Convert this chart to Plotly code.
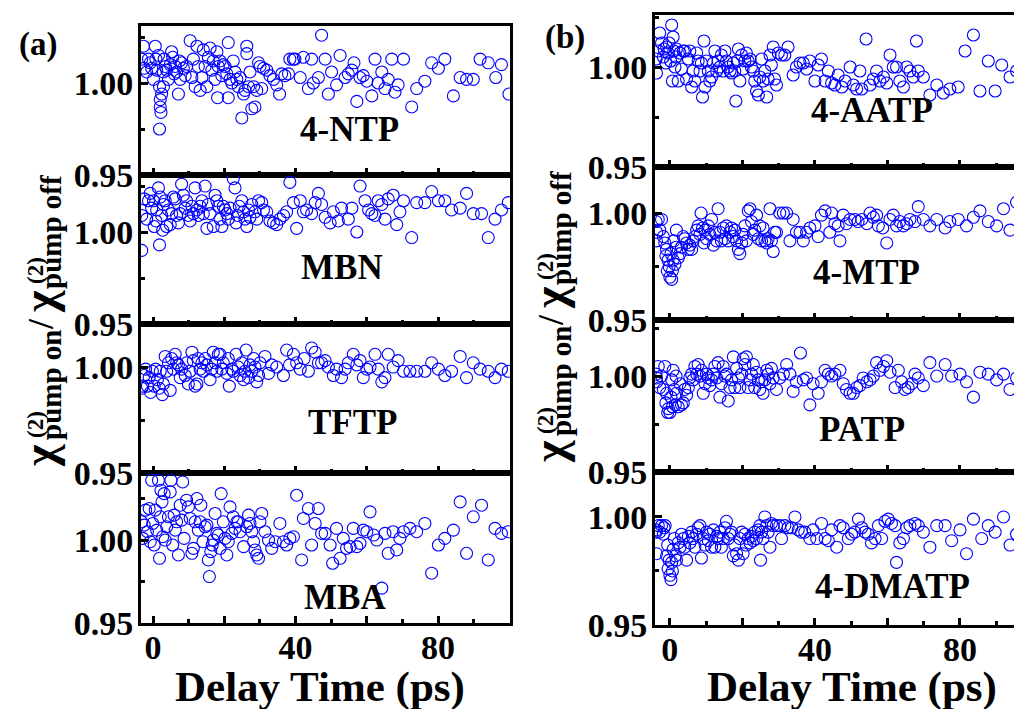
import plotly.graph_objects as go

# ---------------- data: (delay time ps, chi_on/chi_off) ----------------
ntp = [(-3.2,1.013),(-2.7,1.020),(-2.5,1.008),(-1.8,1.006),(-1.3,1.013),(-0.8,1.011),(-0.4,1.008),(0.1,1.002),
       (0.6,1.020),(0.8,1.013),(1.0,1.007),(1.5,1.015),(1.8,0.998),(2.0,0.991),(2.0,0.987),(2.2,0.984),(1.8,0.975),
       (2.4,0.994),(2.9,0.998),(2.9,1.006),(3.1,1.013),(3.4,1.009),(3.8,1.007),(4.3,1.002),(4.8,1.010),(5.2,1.017),
       (5.5,1.014),(5.9,1.005),(6.2,1.009),(6.6,1.006),(7.1,0.994),(7.4,1.012),(7.6,1.002),(8.0,1.011),(8.5,1.008),
       (9.0,1.004),(9.4,1.009),(10.4,1.023),(10.9,1.003),(11.3,1.013),(11.8,0.998),(12.3,1.020),(12.7,1.009),
       (13.2,0.996),(13.7,1.003),(14.1,1.018),(14.6,1.009),(15.1,0.998),(15.5,1.014),(16.0,1.019),(16.5,1.007),
       (16.9,1.012),(17.4,1.002),(17.9,1.017),(18.1,0.992),(18.3,1.009),(18.8,1.012),(19.3,1.004),(19.7,1.010),
       (20.2,1.009),(20.7,1.005),(21.1,1.022),(21.1,0.992),(21.6,1.002),(22.1,1.000),(22.5,1.012),(23.0,1.006),
       (23.5,1.002),(23.9,0.998),(24.4,1.003),(24.9,0.981),(25.4,0.994),(25.8,0.996),(26.3,1.020),(26.3,1.016),
       (26.8,0.998),(27.2,1.006),(27.7,0.986),(28.2,0.998),(28.6,0.987),(29.1,0.996),(29.6,1.011),(30.0,1.009),
       (30.5,0.997),(31.0,1.008),(31.9,1.007),(32.8,1.004),(33.8,1.002),(34.7,0.999),(35.5,0.994),(36.1,1.005),
       (37.0,1.004),(38.0,1.005),(38.4,1.013),(39.4,1.013),(39.8,1.013),(41.3,1.003),(42.2,1.014),(43.6,0.997),
       (44.5,1.013),(45.0,1.000),(46.4,1.003),(47.3,1.026),(48.3,1.013),(49.2,0.994),(50.1,1.006),(51.5,0.999),
       (52.5,1.015),(53.9,1.003),(54.8,1.005),(55.8,1.007),(56.4,1.011),(57.2,0.990),(58.1,1.003),(59.0,1.004),
       (60.0,1.001),(61.4,0.993),(62.3,1.013),(63.2,1.000),(64.2,1.006),(65.1,0.997),(66.0,1.002),(67.0,1.013),
       (67.9,0.995),(68.8,0.999),(70.3,1.013),(72.6,0.987),(74.0,0.997),(76.3,1.001),(78.2,1.011),(80.1,1.008),
       (81.9,1.013),(84.3,0.993),(86.2,1.003),(88.0,1.002),(89.9,1.002),(91.8,1.013),(94.1,1.011),(96.2,1.003),
       (97.8,1.010),(99.9,0.994)]

mbn = [(-3.2,0.990),(-3.2,1.009),(-2.5,1.018),(-1.8,1.007),(-1.3,1.017),(-0.8,1.021),(-0.4,1.013),(0.1,1.017),
       (0.3,1.003),(0.8,1.006),(1.0,1.012),(1.5,1.024),(1.8,0.993),(2.0,1.019),(2.4,1.009),(2.7,1.001),(2.9,1.015),
       (3.4,1.017),(3.8,1.003),(4.3,1.012),(4.8,1.004),(5.2,1.010),(5.7,1.019),(6.2,1.018),(6.6,1.009),(7.1,1.005),
       (7.6,1.010),(8.0,1.026),(8.5,1.020),(9.0,1.013),(9.4,1.017),(9.9,1.009),(10.4,1.006),(10.9,1.014),(11.3,1.010),
       (11.8,1.024),(12.3,1.012),(12.7,1.009),(13.2,1.014),(13.7,1.017),(14.1,1.010),(14.6,1.025),(15.1,1.002),
       (15.5,1.015),(16.0,1.010),(16.9,1.003),(17.4,1.020),(17.9,1.017),(18.3,1.014),(18.8,1.007),(19.3,1.003),
       (19.7,1.014),(20.2,1.012),(20.7,1.010),(21.1,1.007),(21.6,1.013),(22.5,1.029),(23.0,1.024),(23.3,1.005),
       (23.7,1.009),(24.2,1.014),(24.9,1.017),(25.4,1.011),(25.8,1.007),(26.3,1.003),(26.8,1.012),(27.2,1.008),
       (27.7,1.015),(28.6,1.011),(29.1,1.007),(29.6,1.017),(30.5,1.016),(31.0,1.012),(31.9,1.011),(32.8,1.006),
       (33.8,1.005),(34.7,1.004),(35.6,1.007),(36.6,1.009),(37.5,1.011),(38.4,1.027),(39.4,1.016),(40.3,1.002),
       (41.3,1.017),(42.2,1.011),(43.1,1.012),(44.5,1.010),(45.5,1.016),(46.4,1.021),(47.3,1.015),(48.3,1.008),
       (49.7,1.005),(50.6,1.011),(52.0,1.006),(52.9,1.013),(54.8,1.007),(55.8,1.013),(57.2,1.000),(58.1,1.025),
       (59.5,1.017),(60.5,1.012),(61.4,1.010),(62.3,1.009),(63.2,1.017),(64.2,1.015),(65.1,1.007),(66.0,1.018),
       (67.4,1.020),(68.4,1.004),(69.3,1.011),(70.3,1.017),(72.6,0.997),(74.0,1.016),(76.3,1.016),(78.2,1.022),
       (80.1,1.017),(81.9,1.017),(83.8,1.012),(86.2,1.013),(88.0,1.021),(89.9,1.010),(92.2,1.010),(94.1,0.997),
       (96.0,1.007),(97.8,1.012),(99.7,1.016)]

tftp = [(-3.2,0.990),(-2.9,0.991),(-2.5,0.996),(-2.1,0.999),(-1.6,0.991),(-1.1,0.995),(-0.7,0.988),(-0.2,0.998),
        (0.3,0.991),(0.7,0.999),(1.2,0.994),(1.7,0.990),(2.0,0.998),(2.6,0.987),(2.9,0.992),(3.4,1.005),(3.8,0.998),
        (4.3,1.002),(4.8,0.989),(5.2,1.004),(5.7,0.999),(6.2,1.006),(6.6,1.002),(7.1,1.001),(7.6,0.995),(8.0,0.999),
        (9.0,0.996),(9.4,1.002),(9.9,0.992),(10.4,0.998),(10.9,1.007),(11.3,1.003),(11.8,0.991),(12.3,0.992),
        (12.7,1.004),(13.2,0.999),(13.7,1.002),(14.1,0.998),(14.6,1.004),(15.1,1.001),(16.0,0.994),(16.5,0.999),
        (16.9,1.007),(17.4,1.002),(17.9,0.998),(18.3,1.006),(18.8,1.006),(19.3,0.999),(19.7,1.002),(20.7,0.997),
        (21.1,1.004),(21.4,0.991),(22.1,0.999),(22.5,0.998),(23.3,1.006),(23.9,1.000),(24.4,0.996),(24.9,1.002),
        (25.4,0.994),(25.8,0.998),(26.1,1.008),(26.8,0.995),(27.2,1.001),(27.7,0.998),(28.2,1.004),(28.6,1.000),
        (29.1,0.993),(29.6,0.996),(30.0,1.002),(31.4,1.005),(32.4,0.997),(33.3,1.001),(34.7,1.000),(36.6,0.996),
        (37.5,1.008),(38.3,1.001),(39.4,1.006),(40.3,1.002),(41.3,0.999),(42.4,1.004),(43.6,0.998),(44.5,1.009),
        (45.5,1.007),(46.4,1.002),(47.3,1.002),(48.3,1.003),(49.2,1.000),(50.6,0.996),(51.5,0.999),(52.9,0.995),
        (53.9,0.999),(54.8,1.002),(56.2,1.006),(57.2,1.001),(58.1,1.003),(59.0,0.995),(60.0,0.999),(60.9,1.000),
        (62.3,1.006),(63.2,0.999),(64.2,0.993),(65.1,0.995),(66.0,1.006),(67.4,1.000),(68.8,1.003),(70.3,0.998),
        (72.1,0.998),(74.0,0.998),(76.3,0.998),(78.2,1.002),(80.1,0.999),(81.9,0.996),(83.8,0.998),(86.2,1.005),
        (88.0,0.995),(89.9,1.002),(91.8,0.999),(94.1,0.998),(96.0,0.995),(97.8,0.999),(99.7,0.998)]

mba = [(-3.2,1.011),(-2.9,1.001),(-2.5,1.009),(-2.1,1.018),(-1.6,1.005),(-1.1,1.019),(-0.8,0.999),(-0.4,1.036),
       (-0.1,1.010),(0.3,0.997),(0.6,1.018),(1.0,1.006),(1.5,1.036),(1.8,0.989),(2.0,1.014),(2.2,1.030),(2.5,1.023),
       (2.7,1.002),(3.1,1.028),(3.4,1.000),(3.8,1.008),(4.3,1.014),(4.8,1.029),(5.0,1.036),(5.5,0.997),(5.9,1.015),
       (6.2,1.006),(6.6,1.011),(7.1,0.991),(7.6,1.021),(8.0,1.012),(8.3,1.035),(8.7,1.001),(9.4,1.024),(9.9,1.020),
       (10.4,1.013),(10.9,0.992),(11.3,0.995),(11.8,1.011),(12.3,1.025),(12.7,1.006),(13.2,1.011),(13.4,1.021),
       (14.0,0.999),(14.6,1.008),(15.1,1.009),(15.5,0.988),(15.8,0.978),(16.2,0.993),(16.6,0.997),(16.9,1.000),
       (17.4,1.016),(17.9,1.004),(18.3,1.003),(18.8,0.995),(19.1,1.028),(19.7,1.011),(20.2,1.001),(20.7,0.991),
       (21.1,0.999),(21.6,1.020),(22.1,1.004),(22.5,1.014),(23.0,1.007),(23.5,1.011),(23.9,1.011),(24.4,1.005),
       (25.4,0.996),(26.3,1.008),(26.8,1.015),(27.2,1.010),(27.7,1.005),(28.2,0.999),(28.6,0.994),(29.1,0.991),
       (29.6,0.989),(30.0,1.011),(30.5,1.016),(31.4,1.005),(32.4,1.000),(33.3,0.995),(34.3,0.999),(35.6,1.010),
       (36.6,0.999),(37.5,0.997),(38.4,1.001),(39.4,1.002),(40.3,1.027),(41.7,0.988),(42.2,1.013),(43.6,1.019),
       (44.5,0.997),(45.5,1.010),(46.4,1.019),(47.3,1.004),(48.3,1.004),(49.7,0.997),(50.4,0.986),(51.5,1.007),
       (52.5,0.989),(53.4,1.001),(54.3,0.995),(55.3,0.996),(56.2,1.007),(57.2,0.996),(58.1,0.998),(59.0,1.006),
       (60.0,1.005),(60.9,1.017),(61.9,1.003),(62.8,1.000),(64.2,0.971),(65.1,1.004),(66.0,0.992),(67.4,1.005),
       (68.4,0.994),(69.3,1.001),(70.3,1.005),(72.1,1.007),(74.0,1.005),(76.3,1.010),(78.2,0.980),(80.1,0.997),
       (81.9,1.001),(84.3,1.006),(86.2,1.023),(88.0,0.992),(89.9,1.014),(92.2,1.021),(94.1,0.988),(96.0,1.007),
       (97.8,1.004),(99.7,1.005)]

aatp = [(-3.8,1.004),(-3.7,0.997),(-3.2,1.008),(-2.8,1.017),(-2.3,1.012),(-1.8,1.005),(-1.6,1.009),(-1.1,1.002),
        (-0.9,1.010),(-0.5,1.007),(-0.2,1.012),(0.2,1.003),(0.5,1.021),(0.7,0.993),(0.9,1.015),(1.1,1.008),(1.4,1.000),
        (1.7,1.005),(1.8,1.009),(2.3,0.993),(2.8,1.007),(3.2,0.999),(3.7,1.008),(4.1,1.008),(4.6,0.994),(5.1,1.004),
        (5.5,1.008),(6.0,0.990),(6.4,0.998),(6.9,0.993),(7.4,1.007),(7.8,1.003),(8.3,0.998),(8.7,1.002),(9.0,0.985),
        (9.4,1.013),(9.7,0.990),(10.1,1.003),(10.6,0.998),(11.0,0.993),(11.5,0.995),(12.0,1.002),(12.4,1.008),
        (12.9,0.998),(13.3,1.003),(13.8,1.000),(14.2,1.006),(14.7,0.998),(15.2,1.008),(15.6,1.003),(16.1,1.000),
        (16.6,0.998),(17.0,0.997),(17.5,1.002),(17.9,0.998),(18.2,0.983),(18.6,1.003),(18.9,1.009),(19.3,0.993),
        (19.8,1.006),(20.2,0.999),(20.7,1.003),(21.1,1.007),(21.6,1.003),(22.1,1.004),(22.5,1.000),(23.0,0.998),
        (23.4,0.993),(23.9,0.988),(24.4,0.986),(24.8,0.995),(25.3,1.004),(25.7,0.993),(26.2,0.998),(26.7,0.985),
        (27.1,0.994),(27.6,1.006),(28.0,1.001),(28.5,1.010),(28.9,0.994),(29.4,0.991),(29.9,1.007),(30.8,1.006),
        (31.7,1.006),(32.6,1.010),(34.0,0.996),(34.9,1.000),(35.9,1.002),(36.8,1.002),(37.7,0.999),(38.6,1.003),
        (40.0,0.993),(40.9,1.001),(41.8,1.004),(42.8,0.993),(43.7,0.998),(44.6,0.992),(45.5,0.991),(46.4,0.996),
        (47.4,0.990),(48.3,0.993),(49.7,1.000),(50.6,0.991),(51.5,0.989),(52.4,0.998),(52.9,0.989),(54.1,1.014),
        (55.2,0.991),(56.1,0.994),(57.0,0.998),(57.9,0.993),(58.9,0.995),(59.8,0.992),(60.7,1.006),(61.6,1.000),
        (62.5,1.000),(63.4,0.993),(64.4,0.990),(65.3,1.000),(66.2,0.998),(67.1,0.995),(68.0,1.013),(68.5,0.998),
        (69.9,0.995),(71.7,0.986),(73.6,0.991),(75.4,0.987),(77.2,0.989),(79.5,0.990),(81.4,1.008),(83.7,1.016),
        (85.5,0.988),(87.8,1.003),(89.7,0.988),(91.5,1.001),(93.8,0.995),(95.6,0.998),(97.0,0.998)]

mtp = [(-3.8,0.996),(-3.6,0.991),(-3.7,0.987),(-3.2,0.997),(-2.8,0.992),(-2.3,0.997),(-1.8,0.989),(-1.4,0.986),
       (-1.1,0.980),(-0.9,0.983),(-0.7,0.973),(-0.5,0.978),(-0.2,0.975),(0.0,0.970),(0.3,0.981),(0.5,0.969),
       (0.7,0.973),(0.9,0.978),(1.1,0.987),(1.4,0.976),(1.7,0.984),(1.8,0.992),(2.3,0.979),(2.8,0.981),(3.2,0.984),
       (3.7,0.989),(4.1,0.988),(4.6,0.986),(5.1,0.983),(5.5,0.985),(6.0,0.983),(6.4,0.987),(6.9,0.989),(7.4,0.992),
       (7.8,0.994),(8.3,0.990),(8.6,1.000),(9.0,0.993),(9.4,0.986),(9.7,0.992),(10.1,0.988),(10.6,0.994),(11.0,0.990),
       (11.5,0.997),(12.0,0.985),(12.4,0.991),(12.9,0.987),(13.3,1.002),(13.8,0.991),(14.2,0.987),(14.7,0.993),
       (15.2,0.988),(15.6,0.994),(16.1,0.987),(16.6,0.991),(17.0,0.993),(17.5,0.989),(17.9,0.992),(18.4,0.987),
       (18.9,0.983),(19.3,0.981),(19.8,0.986),(20.2,0.990),(20.7,0.994),(21.1,0.987),(21.6,1.001),(22.1,1.002),
       (22.5,0.996),(23.0,0.990),(23.4,0.992),(23.9,0.999),(24.4,0.988),(24.8,0.994),(25.3,0.987),(25.7,0.993),
       (26.2,0.987),(26.7,0.986),(27.1,0.988),(27.6,1.002),(28.0,0.987),(28.5,0.982),(28.9,0.991),(29.4,0.991),
       (30.3,1.000),(31.3,1.000),(32.2,1.000),(33.1,0.987),(34.0,0.997),(34.9,0.991),(35.9,0.991),(36.8,0.987),
       (37.7,0.991),(38.6,0.993),(40.0,0.994),(40.9,0.989),(41.8,0.999),(42.8,1.001),(44.1,0.991),(44.6,1.000),
       (45.5,0.995),(46.4,0.994),(46.9,0.987),(47.8,0.999),(48.7,0.995),(49.7,0.997),(51.0,0.997),(51.9,0.996),
       (52.9,0.997),(54.3,0.995),(55.2,1.000),(56.1,0.998),(57.0,0.999),(57.5,0.994),(58.7,0.993),(59.8,0.986),
       (60.7,0.997),(61.6,0.999),(62.5,0.994),(63.4,0.996),(64.4,0.994),(65.3,0.995),(66.2,0.997),(67.6,0.996),
       (68.5,1.003),(69.9,0.997),(71.7,0.994),(73.6,0.997),(75.9,0.993),(77.2,0.996),(79.5,0.997),(81.8,0.994),
       (83.7,0.998),(85.5,1.001),(87.8,0.996),(90.1,0.994),(92.0,1.002),(93.8,0.992),(95.6,1.005),(97.0,1.001)]

patp = [(-3.8,1.001),(-3.6,0.997),(-3.7,0.999),(-3.2,1.005),(-2.8,0.994),(-2.3,1.000),(-1.8,0.993),(-1.4,1.005),
        (-1.1,0.986),(-0.9,0.991),(-0.6,0.981),(-0.4,0.983),(0.0,0.981),(0.3,0.989),(0.5,0.998),(0.7,0.984),
        (0.9,1.003),(1.2,0.993),(1.5,0.985),(1.7,1.000),(1.8,0.991),(2.3,0.984),(2.8,0.996),(3.2,0.985),(3.7,0.986),
        (4.1,0.993),(4.6,0.990),(5.1,0.994),(5.5,0.999),(6.0,1.001),(6.4,0.998),(6.9,1.005),(7.4,1.001),(7.8,1.006),
        (8.3,1.000),(8.7,1.003),(9.2,0.991),(9.7,0.996),(10.1,1.001),(10.6,0.999),(11.0,0.995),(11.5,0.998),
        (12.0,1.001),(12.4,1.005),(12.9,0.999),(13.3,1.007),(13.8,0.989),(14.2,0.996),(14.7,1.005),(15.2,1.000),
        (15.6,1.001),(16.1,0.987),(16.6,0.994),(17.0,0.998),(17.5,1.010),(17.9,0.994),(18.4,1.004),(18.9,0.999),
        (19.3,0.994),(19.8,1.001),(20.2,1.009),(20.7,1.006),(21.1,1.010),(21.6,0.994),(22.1,0.998),(22.5,1.001),
        (23.0,1.006),(23.4,0.994),(23.9,1.002),(24.4,0.998),(24.8,0.993),(25.3,0.997),(25.7,0.991),(26.2,0.998),
        (26.7,1.003),(27.1,1.001),(27.6,0.996),(28.0,1.004),(28.5,0.999),(29.4,0.993),(30.3,0.999),(31.3,1.001),
        (32.2,1.006),(33.1,1.001),(34.0,0.992),(34.9,0.997),(36.0,1.012),(36.8,0.998),(37.7,0.999),(38.6,0.985),
        (39.5,0.996),(40.9,0.991),(41.8,0.997),(42.8,1.003),(43.7,1.001),(44.6,1.000),(45.5,1.001),(46.9,1.003),
        (47.8,0.996),(48.7,0.993),(49.7,0.991),(50.6,0.991),(51.5,0.994),(52.4,0.995),(53.3,0.999),(54.3,0.997),
        (55.2,0.998),(56.1,1.000),(57.0,1.007),(57.9,1.003),(58.9,1.005),(59.8,1.008),(60.7,1.002),(62.1,0.994),
        (63.0,1.003),(63.9,0.997),(64.8,0.993),(65.7,0.994),(66.7,0.996),(67.6,1.001),(68.5,0.999),(69.9,0.995),
        (71.7,1.007),(73.6,1.000),(75.9,1.006),(77.7,1.000),(80.0,1.001),(81.8,0.997),(83.7,0.989),(85.5,1.002),
        (87.8,1.001),(90.1,0.998),(92.0,1.001),(93.8,0.993),(95.6,0.999),(97.0,1.001)]

dmatp = [(-3.8,0.993),(-3.7,0.994),(-3.7,0.983),(-3.2,0.996),(-2.8,0.993),(-2.3,0.996),(-1.8,0.992),(-1.6,0.995),
         (-1.3,0.996),(-0.9,0.982),(-0.6,0.987),(-0.5,0.976),(-0.2,0.980),(0.0,0.973),(0.3,0.971),(0.5,0.979),
         (0.7,0.975),(0.9,0.985),(1.2,0.990),(1.5,0.982),(1.8,0.980),(2.3,0.988),(2.8,0.986),(3.2,0.992),(3.7,0.990),
         (4.1,0.986),(4.6,0.980),(5.1,0.991),(5.5,0.988),(6.0,0.993),(6.4,0.990),(6.9,0.986),(7.4,0.992),(7.8,0.995),
         (8.3,0.996),(8.7,0.981),(9.2,0.990),(9.7,0.987),(10.1,0.993),(10.6,0.989),(11.0,0.992),(11.5,0.986),
         (12.0,0.994),(12.4,0.986),(12.9,0.991),(13.3,0.990),(13.8,0.993),(14.2,0.986),(14.7,0.990),(15.2,0.995),
         (15.6,0.998),(16.1,0.990),(16.6,0.992),(17.0,0.993),(17.5,0.982),(17.9,0.987),(18.4,0.983),(18.9,0.980),
         (19.3,0.990),(19.8,0.993),(20.2,0.983),(20.7,0.992),(21.1,0.987),(21.6,0.990),(22.1,0.988),(22.5,0.991),
         (23.0,0.989),(23.4,0.993),(23.9,0.990),(24.4,0.994),(24.8,0.996),(25.0,0.980),(25.3,0.993),(25.7,0.990),
         (26.2,1.000),(26.7,0.996),(27.1,0.993),(27.6,0.986),(28.0,0.997),(28.5,0.996),(29.4,0.996),(30.3,0.996),
         (30.8,0.990),(31.7,0.996),(32.6,0.995),(33.6,0.995),(34.5,1.000),(35.4,0.994),(36.3,0.993),(37.2,0.993),
         (38.6,0.990),(39.5,0.994),(40.5,0.990),(41.8,0.997),(42.8,0.990),(43.7,0.989),(44.6,0.994),(46.0,0.986),
         (46.9,0.996),(47.8,0.995),(49.2,0.990),(50.1,0.992),(51.0,0.993),(52.0,0.999),(52.9,0.995),(53.8,0.993),
         (54.7,0.992),(55.6,0.988),(56.6,0.990),(57.5,0.996),(58.4,0.990),(59.3,0.998),(60.2,0.999),(61.1,0.997),
         (62.1,0.996),(62.5,0.979),(63.4,0.988),(64.4,0.990),(65.3,0.995),(66.2,0.996),(67.6,0.997),(68.5,0.996),
         (69.9,0.993),(71.7,0.986),(73.6,0.996),(75.9,0.996),(77.7,0.989),(80.0,0.994),(81.8,0.983),(83.7,0.999),
         (86.0,0.990),(87.8,0.996),(89.7,0.993),(92.0,1.000),(93.8,0.987),(95.6,0.992),(97.0,1.000)]

left_names = ["4-NTP", "MBN", "TFTP", "MBA"]
right_names = ["4-AATP", "4-MTP", "PATP", "4-DMATP"]
left_data = [ntp, mbn, tftp, mba]
right_data = [aatp, mtp, patp, dmatp]

x_tickvals = [0, 20, 40, 60, 80, 100]
x_ticktext = ["0", "", "40", "", "80", ""]
y_tickvals = [0.95, 1.00]
y_ticktext = ["0.95", "1.00"]

# ---------------- layout geometry (page pixels) ----------------
PAGE_W, PAGE_H = 1022, 709
BODY = 8                       # default page margin around the plot div
W, H = PAGE_W - BODY, PAGE_H - BODY
FONT = "Liberation Serif"
BLUE = "#0000ff"


def fx(px):
    return (px - BODY) / W


def fy(py):
    return 1 - (py - BODY) / H


left_cols = (141, 510)
right_cols = (655, PAGE_W)
left_rows = [(26, 175), (175, 324), (324, 473), (473, 623)]
right_rows = [(15, 167), (167, 320), (320, 472), (472, 625)]
left_yrange = [[0.95, 1.0310], [0.95, 1.0310], [0.95, 1.0203], [0.95, 1.0404]]
right_yrange = [[0.95, 1.0260], [0.95, 1.0215], [0.95, 1.0292], [0.95, 1.0208]]
left_xrange = [-3.4, 100.2]
right_xrange = [-4.1, 97.1]

fig = go.Figure()
layout = dict(
    width=W, height=H, margin=dict(l=0, r=0, t=0, b=0, autoexpand=False),
    paper_bgcolor="white", plot_bgcolor="white", showlegend=False,
    font=dict(family=FONT, color="black"),
)

tickfont = dict(family=FONT, size=34, color="black", weight="bold")

panels = []
for i in range(4):
    panels.append((left_data[i], left_cols, left_rows[i], left_yrange[i], left_xrange, True, i == 3))
for i in range(4):
    panels.append((right_data[i], right_cols, right_rows[i], right_yrange[i], right_xrange, False, i == 3))

for n, (data, cols, rows, yr, xr, is_left, bottom) in enumerate(panels, start=1):
    xs = [p[0] for p in data]
    ys = [p[1] for p in data]
    fig.add_trace(go.Scatter(
        x=xs, y=ys, mode="markers", xaxis=f"x{n}", yaxis=f"y{n}",
        marker=dict(symbol="circle-open", size=12, color=BLUE, line=dict(width=1.1, color=BLUE)),
        hoverinfo="skip"))
    xkey = "xaxis" if n == 1 else f"xaxis{n}"
    ykey = "yaxis" if n == 1 else f"yaxis{n}"
    layout[xkey] = dict(
        domain=[fx(cols[0]), min(1.0, fx(cols[1]))], anchor=f"y{n}", range=xr, automargin=False,
        showgrid=False, zeroline=False, showline=True, linecolor="black", linewidth=3,
        mirror=True, ticks="inside", ticklen=7, tickwidth=2.5, tickcolor="black",
        tickmode="array", tickvals=x_tickvals, ticktext=x_ticktext,
        showticklabels=bottom, tickfont=tickfont, ticklabelstandoff=-8,
        minor=dict(tickmode="array", tickvals=[10, 30, 50, 70, 90], ticks="inside",
                   ticklen=4, tickwidth=2.5, tickcolor="black"),
    )
    layout[ykey] = dict(
        domain=[fy(rows[1]), fy(rows[0])], anchor=f"x{n}", range=yr, automargin=False,
        showgrid=False, zeroline=False, showline=True, linecolor="black", linewidth=3,
        mirror=is_left, ticks="inside", ticklen=7, tickwidth=2.5, tickcolor="black",
        tickmode="array", tickvals=y_tickvals, ticktext=y_ticktext,
        tickfont=tickfont, ticklabelstandoff=-2,
        minor=dict(tickmode="array", tickvals=[0.975, 1.025], ticks="inside",
                   ticklen=4, tickwidth=2.5, tickcolor="black"),
    )

ann = []


def add_text(text, px, py, size, angle=0):
    ann.append(dict(text=text, x=fx(px), y=fy(py), xref="paper", yref="paper",
                    xanchor="center", yanchor="middle", showarrow=False, textangle=angle,
                    font=dict(family=FONT, size=size, color="black", weight="bold")))


# panel labels
label_pos_left = [(349, 130), (342, 267), (352, 422), (345, 597)]
label_pos_right = [(872, 110), (866, 273), (862, 429), (892, 586)]
for name, (px, py) in zip(left_names, label_pos_left):
    add_text(name, px, py, 35)
for name, (px, py) in zip(right_names, label_pos_right):
    add_text(name, px, py, 35)

# (a), (b)
add_text("(a)", 38, 44, 33)
add_text("(b)", 565, 37, 33)

# x titles
add_text("Delay Time (ps)", 320, 687, 43)
add_text("Delay Time (ps)", 852, 687, 43)

# y titles (stacked super/subscripts built from pieces)
for dx, dy in [(0, 0), (510, -4)]:
    add_text("χ", 39 + dx, 456 + dy, 46, -90)
    add_text("(2)", 35 + dx, 425 + dy, 23, -90)
    add_text("pump on", 51 + dx, 385 + dy, 29, -90)
    add_text("/", 41 + dx, 324 + dy, 36, -90)
    add_text("χ", 39 + dx, 302 + dy, 46, -90)
    add_text("(2)", 35 + dx, 271 + dy, 23, -90)
    add_text("pump off", 51 + dx, 232 + dy, 29, -90)

layout["annotations"] = ann
fig.update_layout(**layout)
fig.write_html("out.html")
